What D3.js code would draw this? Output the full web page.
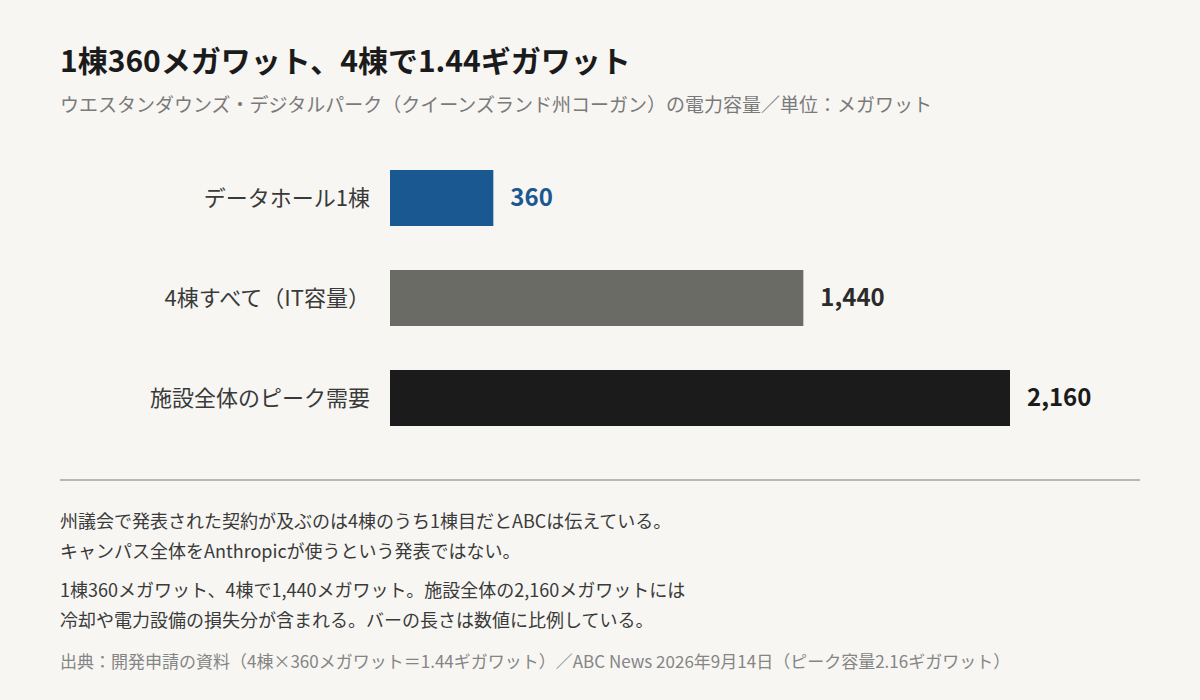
<!DOCTYPE html>
<html><head><meta charset="utf-8">
<script src="https://cdn.jsdelivr.net/npm/d3@7"></script>
<style>
html,body{margin:0;padding:0;background:#f7f6f3;}
svg{display:block;font-family:"Noto Sans CJK JP","Noto Sans",sans-serif;}
</style></head>
<body><svg id="c" width="1200" height="700"></svg>
<script>
const categories = ["データホール1棟", "4棟すべて（IT容量）", "施設全体のピーク需要"];
const values = [360, 1440, 2160];
const valueLabels = ["360", "1,440", "2,160"];
const barColors = ["#1a5891", "#6b6b66", "#1b1b1b"];
const labelColors = ["#1a5891", "#2b2b2b", "#1b1b1b"];
const title = "1棟360メガワット、4棟で1.44ギガワット";
const subtitle = "ウエスタンダウンズ・デジタルパーク（クイーンズランド州コーガン）の電力容量／単位：メガワット";
const notes1 = ["州議会で発表された契約が及ぶのは4棟のうち1棟目だとABCは伝えている。", "キャンパス全体をAnthropicが使うという発表ではない。"];
const notes2 = ["1棟360メガワット、4棟で1,440メガワット。施設全体の2,160メガワットには", "冷却や電力設備の損失分が含まれる。バーの長さは数値に比例している。"];
const source = "出典：開発申請の資料（4棟×360メガワット＝1.44ギガワット）／ABC News 2026年9月14日（ピーク容量2.16ギガワット）";

const svg = d3.select("#c");
svg.append("rect").attr("width",1200).attr("height",700).attr("fill","#f7f6f3");

svg.append("text").attr("x",60).attr("y",72).attr("font-size",30).attr("font-weight",700).attr("fill","#1b1b1b").text(title);
svg.append("text").attr("x",60).attr("y",112).attr("font-size",19).attr("fill","#7a7a7a").text(subtitle);

const x = d3.scaleLinear().domain([0,2160]).range([390,1010]);
const y = d3.scaleBand().domain(categories).range([148,448]).paddingInner(0.44).paddingOuter(0.22);

const g = svg.append("g");
g.selectAll("rect.bar").data(categories).join("rect").attr("class","bar")
  .attr("x",x(0)).attr("y",d=>y(d)).attr("height",y.bandwidth())
  .attr("width",(d,i)=>x(values[i])-x(0)).attr("fill",(d,i)=>barColors[i]);

g.selectAll("text.cat").data(categories).join("text").attr("class","cat")
  .attr("x",370).attr("y",d=>y(d)+y.bandwidth()/2).attr("dy","0.35em")
  .attr("text-anchor","end").attr("font-size",22).attr("fill","#3a3a3a").text(d=>d);

g.selectAll("text.val").data(categories).join("text").attr("class","val")
  .attr("x",(d,i)=>x(values[i])+17).attr("y",d=>y(d)+y.bandwidth()/2).attr("dy","0.35em")
  .attr("font-size",24).attr("font-weight",700).attr("fill",(d,i)=>labelColors[i]).text((d,i)=>valueLabels[i]);

svg.append("line").attr("x1",60).attr("x2",1140).attr("y1",480).attr("y2",480).attr("stroke","#b8b8b5").attr("stroke-width",2);

notes1.forEach((t,i)=>svg.append("text").attr("x",60).attr("y",528+i*30).attr("font-size",18).attr("fill","#3a3a3a").text(t));
notes2.forEach((t,i)=>svg.append("text").attr("x",60).attr("y",597+i*30).attr("font-size",18).attr("fill","#3a3a3a").text(t));
svg.append("text").attr("x",60).attr("y",668).attr("font-size",17).attr("fill","#858585").text(source);
</script></body></html>
